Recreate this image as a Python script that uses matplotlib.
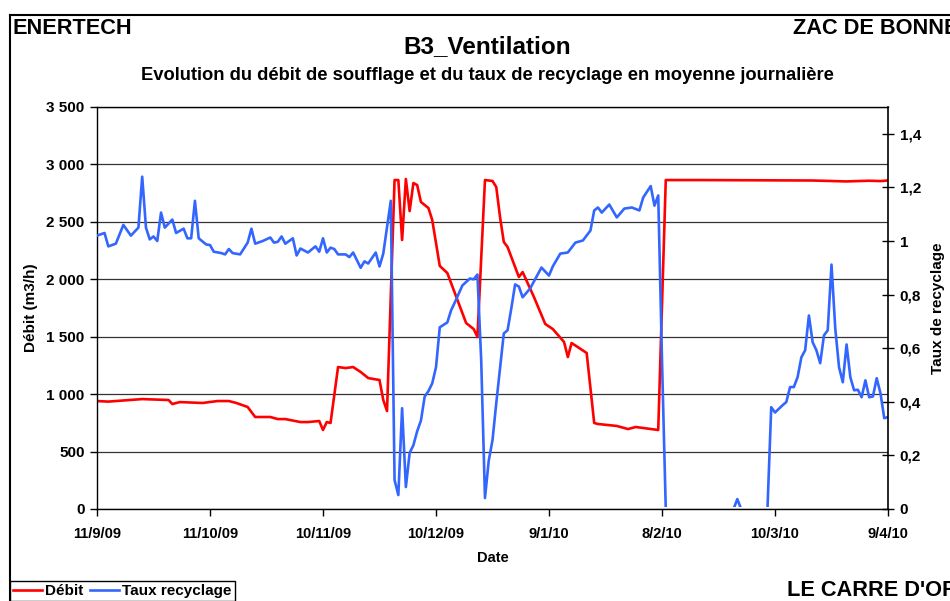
import pandas as pd
import matplotlib
matplotlib.use('Agg')
import matplotlib.pyplot as plt
from matplotlib.ticker import FuncFormatter, MultipleLocator
from matplotlib.transforms import offset_copy
import matplotlib.dates as mdates

# Données (jours depuis le 11/9/09)
start = pd.Timestamp('2009-09-11')

debit_jour = [0, 3, 12, 19, 20, 22, 28, 32, 35, 37, 40, 42, 46, 48, 50, 54, 56, 59, 60, 61, 62,
              64, 66, 68, 70, 72, 75, 76, 77, 79, 80, 81, 82, 83, 84, 85, 86, 88, 89, 91, 93,
              96, 98, 100, 101, 103, 105, 106, 107, 108, 109, 112, 113, 116, 119, 121, 124,
              125, 126, 128, 130, 132, 133, 138, 141, 143, 149, 151, 160, 175, 190, 199, 205,
              208, 210]
debit = [940, 935, 957, 949, 914, 931, 923, 940, 940, 923, 888, 801, 801, 783, 783, 757, 757,
         766, 688, 757, 749, 1236, 1227, 1236, 1193, 1140, 1123, 949, 853, 2864, 2864, 2342,
         2873, 2594, 2838, 2820, 2673, 2620, 2516, 2116, 2055, 1793, 1619, 1567, 1498, 2864,
         2856, 2803, 2542, 2325, 2281, 2020, 2063, 1846, 1611, 1567, 1454, 1323, 1445, 1402,
         1358, 749, 740, 723, 696, 714, 688, 2864, 2864, 2862, 2860, 2852, 2858, 2855, 2860]

taux_jour = [0, 2, 3, 5, 7, 9, 11, 12, 13, 14, 15, 16, 17, 18, 20, 21, 23, 24, 25, 26, 27, 29,
             30, 31, 33, 34, 35, 36, 38, 40, 41, 42, 44, 46, 47, 48, 49, 50, 52, 53, 54, 56,
             58, 59, 60, 61, 62, 63, 64, 66, 67, 68, 70, 71, 72, 74, 75, 76, 78, 79, 80, 81,
             82, 83, 84, 85, 86, 87, 88, 89, 90, 91, 93, 94, 95, 97, 99, 100, 101, 102, 103,
             104, 105, 106, 108, 109, 110, 111, 112, 113, 115, 118, 120, 121, 123, 125, 127,
             129, 131, 132, 133, 134, 136, 138, 140, 142, 144, 145, 147, 148, 149, 150, 151,
             169, 170, 171, 178, 179, 180, 182, 183, 184, 185, 186, 187, 188, 189, 190, 191,
             192, 193, 194, 195, 196, 197, 198, 199, 200, 201, 202, 203, 204, 205, 206, 207,
             208, 209, 210]
taux = [1.02, 1.03, 0.98, 0.99, 1.06, 1.02, 1.05, 1.24, 1.05, 1.006, 1.017, 1.0, 1.106, 1.05,
        1.08, 1.03, 1.046, 1.01, 1.01, 1.15, 1.01, 0.987, 0.985, 0.96, 0.955, 0.95, 0.97,
        0.955, 0.95, 0.994, 1.046, 0.99, 1.0, 1.013, 0.994, 0.997, 1.017, 0.99, 1.01, 0.946,
        0.972, 0.957, 0.98, 0.96, 1.01, 0.957, 0.975, 0.97, 0.95, 0.95, 0.94, 0.957, 0.90,
        0.924, 0.916, 0.957, 0.905, 0.953, 1.15, 0.108, 0.052, 0.376, 0.082, 0.209, 0.238,
        0.29, 0.33, 0.42, 0.44, 0.469, 0.529, 0.678, 0.696, 0.741, 0.771, 0.834, 0.86, 0.857,
        0.875, 0.555, 0.041, 0.18, 0.257, 0.395, 0.655, 0.667, 0.749, 0.838, 0.83, 0.79,
        0.823, 0.901, 0.871, 0.905, 0.953, 0.957, 0.994, 1.002, 1.039, 1.114, 1.125, 1.106,
        1.136, 1.088, 1.121, 1.125, 1.114, 1.162, 1.205, 1.132, 1.17, 0.555, 0.0,
        0.0, 0.037, 0.0, 0.0, 0.38, 0.36, 0.387, 0.399, 0.455, 0.455, 0.492, 0.566, 0.592,
        0.722, 0.622, 0.592, 0.544, 0.648, 0.667, 0.912, 0.674, 0.529, 0.473, 0.614, 0.492,
        0.443, 0.445, 0.417, 0.48, 0.417, 0.42, 0.488, 0.432, 0.339, 0.343]

plt.rcParams['font.family'] = ['Liberation Sans', 'DejaVu Sans']
plt.rcParams['font.weight'] = 'bold'

W, H = 950, 601
fig = plt.figure(figsize=(9.5, 6.01), dpi=100)

def fx(px):
    return px / W

def fy(py):
    return 1 - py / H

ax = fig.add_axes([fx(97), fy(509), fx(888 - 97), (509 - 107) / H])
ax2 = ax.twinx()

dates_debit = start + pd.to_timedelta(debit_jour, unit='D')
dates_taux = start + pd.to_timedelta(taux_jour, unit='D')

l1, = ax.plot(dates_debit, debit, color='#FF0000', lw=1.9)
l2, = ax2.plot(dates_taux, taux, color='#3366FF', lw=1.9)

# la partie du trait bleu posée sur l'axe (taux = 0) reste cachée comme dans Excel
clip = plt.Rectangle((0, 0), 1, 1.2, transform=offset_copy(ax2.transAxes, fig, y=1.6, units='dots'))
l2.set_clip_path(clip)

ax.set_xlim(start, start + pd.Timedelta(days=210))
ax.set_ylim(0, 3500)
ax2.set_ylim(0, 1.5)

ax.set_xticks([start + pd.Timedelta(days=30 * i) for i in range(8)])
ax.xaxis.set_major_formatter(FuncFormatter(
    lambda v, p: (lambda d: f"{d.day}/{d.month}/{d:%y}")(mdates.num2date(v))))
ax.yaxis.set_major_locator(MultipleLocator(500))
ax.yaxis.set_major_formatter(FuncFormatter(lambda v, p: f"{int(v):,}".replace(',', ' ')))
ax2.set_yticks([0, 0.2, 0.4, 0.6, 0.8, 1.0, 1.2, 1.4])
ax2.yaxis.set_major_formatter(FuncFormatter(lambda v, p: f"{v:g}".replace('.', ',')))

ax.grid(axis='y', color='#333333', lw=0.9)
ax.set_axisbelow(True)
for s in ['left', 'bottom', 'top']:
    ax.spines[s].set_color('black')
    ax.spines[s].set_linewidth(1.0)
ax.spines['right'].set_visible(False)
ax2.spines['right'].set_color('black')
ax2.spines['right'].set_linewidth(1.2)
for s in ['left', 'bottom', 'top']:
    ax2.spines[s].set_visible(False)

ax.tick_params(axis='y', direction='out', length=5, width=1, labelsize=11, pad=4)
ax.tick_params(axis='x', direction='out', length=5, width=1, labelsize=10.5, pad=8)
ax2.tick_params(axis='y', direction='inout', length=9, width=1, labelsize=11, pad=4)

ax.set_ylabel('Débit (m3/h)', fontsize=11, fontweight='bold', labelpad=6)
ax2.set_ylabel('Taux de recyclage', fontsize=11, fontweight='bold', labelpad=7)

fig.text(fx(493), fy(558), 'Date', ha='center', va='center', fontsize=10.5, fontweight='bold')
fig.text(fx(12), fy(29), 'ENERTECH', ha='left', va='center', fontsize=15.7, fontweight='bold')
fig.text(fx(793), fy(29), 'ZAC DE BONNE', ha='left', va='center', fontsize=15.7, fontweight='bold')
fig.text(fx(487), fy(47), 'B3_Ventilation', ha='center', va='center', fontsize=17.5, fontweight='bold')
fig.text(fx(487), fy(75), 'Evolution du débit de soufflage et du taux de recyclage en moyenne journalière',
         ha='center', va='center', fontsize=13.2, fontweight='bold')
fig.text(fx(787), fy(590), "LE CARRE D'OR", ha='left', va='center', fontsize=15.7, fontweight='bold')

# cadre extérieur
fig.add_artist(plt.Line2D([fx(10), fx(10)], [fy(15), 0], transform=fig.transFigure, color='black', lw=1.5))
fig.add_artist(plt.Line2D([fx(10), 1], [fy(15), fy(15)], transform=fig.transFigure, color='black', lw=1.5))

leg = fig.legend([l1, l2], ['Débit', 'Taux recyclage'], loc='upper left',
                 bbox_to_anchor=(fx(10), fy(581)), borderaxespad=0, ncol=2,
                 handlelength=1.9, handletextpad=0.2, columnspacing=0.45, borderpad=0.2,
                 fancybox=False, edgecolor='black', framealpha=1, prop={'size': 11, 'weight': 'bold'})
leg.get_frame().set_linewidth(1.0)

fig.savefig('out.png', dpi=100)
